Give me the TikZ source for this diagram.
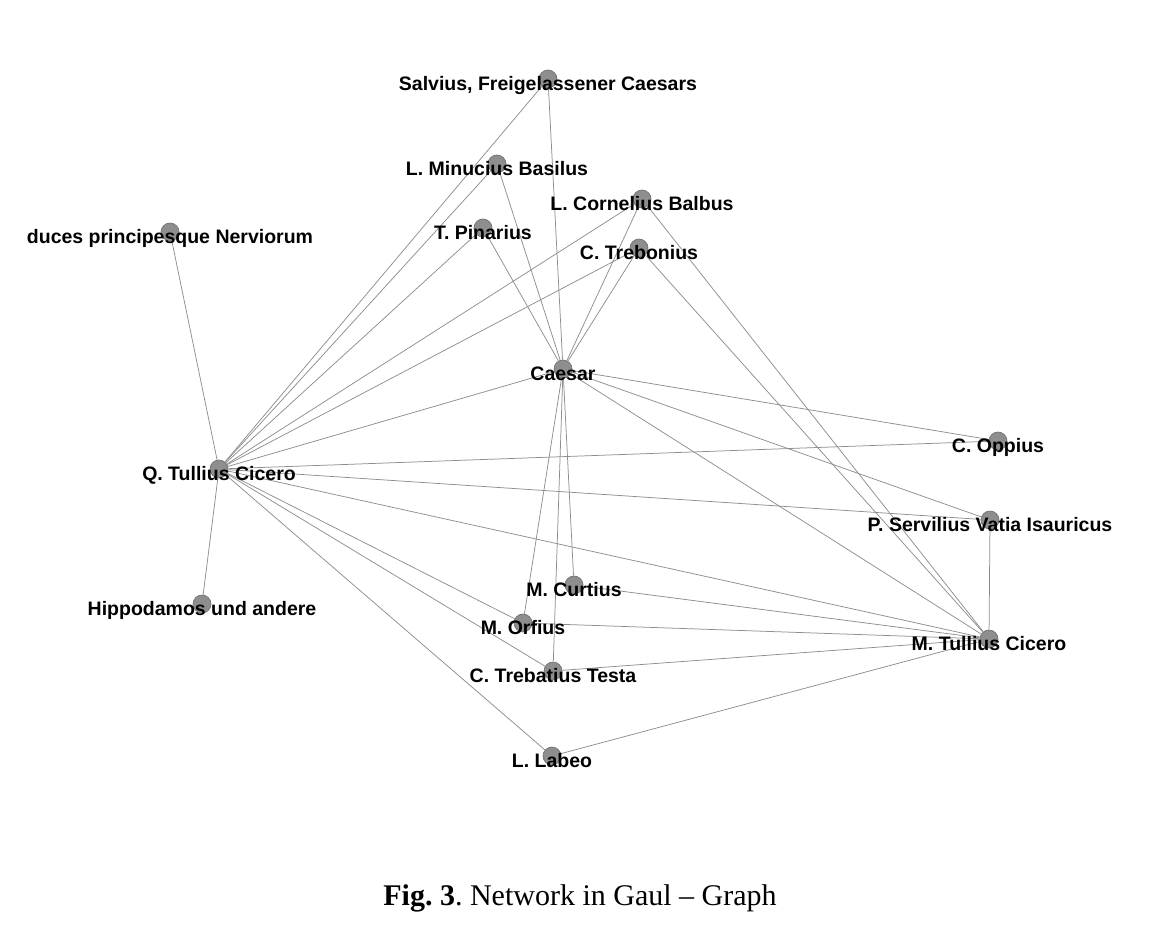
\documentclass[tikz,border=0pt]{standalone}
\usepackage{fontspec}
\setmainfont{Liberation Serif}
\setsansfont{Liberation Sans}
\usepackage{xcolor}
\definecolor{nodegray}{HTML}{8E8E8E}
\definecolor{edgegray}{HTML}{8E8E8E}
\tikzset{
  main node/.style={circle,draw=nodegray!80!black,fill=nodegray,line width=0.7pt,minimum size=18pt,inner sep=0pt},
  person/.style={font=\sffamily\bfseries\fontsize{19.5}{21}\selectfont,anchor=base,yshift=-11.5pt,inner sep=0pt},
  link/.style={draw=edgegray,line width=0.75pt}
}
\begin{document}
\begin{tikzpicture}[x=1pt,y=-1pt]
        \useasboundingbox (0,0) rectangle (1162,932);

        \node[main node] (salvius) at (548,79) {};
        \node[main node] (minucius) at (497,164) {};
        \node[main node] (balbus) at (642,199) {};
        \node[main node] (pinarius) at (483,228) {};
        \node[main node] (trebonius) at (639,248) {};
        \node[main node] (duces) at (170,232) {};
        \node[main node] (caesar) at (563,369) {};
        \node[main node] (oppius) at (998,441) {};
        \node[main node] (quintus) at (219,469) {};
        \node[main node] (servilius) at (990,520) {};
        \node[main node] (curtius) at (574,585) {};
        \node[main node] (hippo) at (202,604) {};
        \node[main node] (orfius) at (523,623) {};
        \node[main node] (marcus) at (989,639) {};
        \node[main node] (trebatius) at (553,671) {};
        \node[main node] (labeo) at (552,756) {};

        \path[link]
          (quintus) edge (duces) edge (hippo) edge (salvius) edge (minucius)
                    edge (pinarius) edge (balbus) edge (trebonius) edge (caesar)
                    edge (oppius) edge (servilius) edge (marcus) edge (orfius)
                    edge (trebatius) edge (labeo)
          (caesar) edge (salvius) edge (minucius) edge (pinarius) edge (balbus)
                   edge (trebonius) edge (oppius) edge (servilius) edge (marcus)
                   edge (curtius) edge (orfius) edge (trebatius)
          (marcus) edge (balbus) edge (trebonius) edge (servilius) edge (curtius)
                   edge (orfius) edge (trebatius) edge (labeo);

        \node[person] (salvius label) at (salvius) {Salvius, Freigelassener Caesars};
        \node[person] (minucius label) at (minucius) {L. Minucius Basilus};
        \node[person] (balbus label) at (balbus) {L. Cornelius Balbus};
        \node[person] (pinarius label) at (pinarius) {T. Pinarius};
        \node[person] (trebonius label) at (trebonius) {C. Trebonius};
        \node[person] (duces label) at (duces) {duces principesque Nerviorum};
        \node[person] (caesar label) at (caesar) {Caesar};
        \node[person] (oppius label) at (oppius) {C. Oppius};
        \node[person] (quintus label) at (quintus) {Q. Tullius Cicero};
        \node[person] (servilius label) at (servilius) {P. Servilius Vatia Isauricus};
        \node[person] (curtius label) at (curtius) {M. Curtius};
        \node[person] (hippo label) at (hippo) {Hippodamos und andere};
        \node[person] (orfius label) at (orfius) {M. Orfius};
        \node[person] (marcus label) at (marcus) {M. Tullius Cicero};
        \node[person] (trebatius label) at (trebatius) {C. Trebatius Testa};
        \node[person] (labeo label) at (labeo) {L. Labeo};

        \node[font=\fontsize{30}{34}\selectfont,anchor=base] (caption) at (580,905)
          {\frenchspacing\textbf{Fig. 3}. Network in Gaul -- Graph};
\end{tikzpicture}
\end{document}
